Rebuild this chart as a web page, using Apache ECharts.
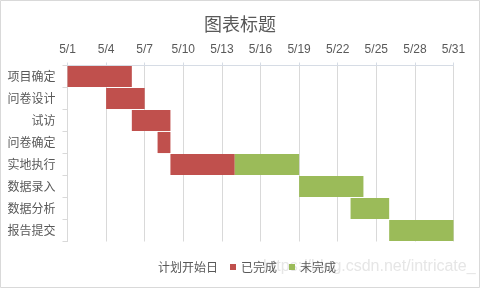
<!DOCTYPE html>
<html><head><meta charset="utf-8">
<script src="https://cdn.jsdelivr.net/npm/echarts@6/dist/echarts.min.js"></script>
<style>html,body{margin:0;padding:0;background:#fff}#c{width:480px;height:288px}</style>
</head><body><div id="c"></div>
<script>
var categories = ['项目确定','问卷设计','试访','问卷确定','实地执行','数据录入','数据分析','报告提交'];
var startDay = [0, 3, 5, 7, 8, 18, 22, 25];
var completedDays = [5, 3, 3, 1, 5, 0, 0, 0];
var remainingDays = [0, 0, 0, 0, 5, 5, 3, 5];
var tickLabels = ['5/1','5/4','5/7','5/10','5/13','5/16','5/19','5/22','5/25','5/28','5/31'];
var seriesNames = ['计划开始日','已完成','未完成'];

var chart = echarts.init(document.getElementById('c'), null, {renderer:'canvas'});
var txt = '#595959';
chart.setOption({
  animation:false,
  textStyle:{fontFamily:'"Noto Sans CJK SC", sans-serif'},
  title:{text:'图表标题', left:'center', top:10, textStyle:{fontSize:18, fontWeight:'normal', color:txt, fontFamily:'"Noto Sans CJK SC", sans-serif'}},
  graphic:[
    {type:'rect', shape:{x:0.5,y:0.5,width:479,height:287}, style:{fill:'none', stroke:'#d9d9d9', lineWidth:1}, z:-10},
    {type:'text', left:263, top:259, z:-5, style:{text:'https://blog.csdn.net/intricate_', fill:'#e6e6e6', font:'16px "Liberation Sans", sans-serif'}}
  ],
  legend:{data:seriesNames, left:142, top:256, itemWidth:6, itemHeight:6, itemGap:12, icon:'rect',
    textStyle:{fontSize:12, color:txt}},
  grid:{left:67.5, right:26.5, top:65.5, bottom:46.5},
  xAxis:{type:'value', position:'top', min:0, max:30, interval:3,
    axisLine:{show:true, lineStyle:{color:'#d6dce5'}},
    axisTick:{show:true, length:3, lineStyle:{color:'#d6dce5'}},
    axisLabel:{color:txt, fontSize:12, margin:10, fontFamily:'"Liberation Sans", sans-serif', formatter:function(v){return tickLabels[Math.round(v/3)];}},
    splitLine:{show:true, lineStyle:{color:'#d9d9d9'}}},
  yAxis:{type:'category', data:categories, inverse:true,
    axisLine:{show:true, lineStyle:{color:'#d9d9d9'}},
    axisTick:{show:true, length:5, lineStyle:{color:'#d9d9d9'}},
    axisLabel:{color:txt, fontSize:12, margin:12}},
  series:[
    {name:seriesNames[0], type:'bar', stack:'g', data:startDay, itemStyle:{color:'rgba(0,0,0,0)'}, barCategoryGap:'4%'},
    {name:seriesNames[1], type:'bar', stack:'g', data:completedDays, itemStyle:{color:'#C0504D'}, barCategoryGap:'4%'},
    {name:seriesNames[2], type:'bar', stack:'g', data:remainingDays, itemStyle:{color:'#9BBB59'}, barCategoryGap:'4%'}
  ]
});
</script></body></html>
